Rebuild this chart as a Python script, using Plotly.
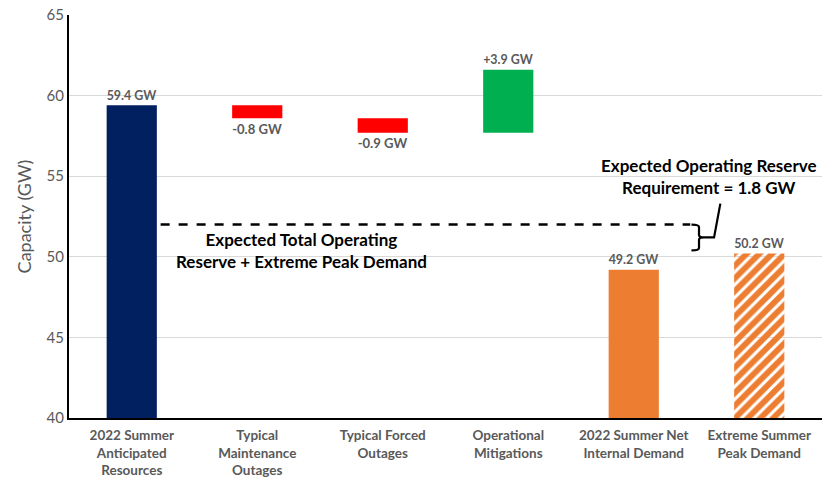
import plotly.graph_objects as go

categories = ["2022 Summer<br>Anticipated<br>Resources", "Typical<br>Maintenance<br>Outages",
              "Typical Forced<br>Outages", "Operational<br>Mitigations",
              "2022 Summer Net<br>Internal Demand", "Extreme Summer<br>Peak Demand"]
resources = 59.4
changes = [-0.8, -0.9, 3.9]
net_demand = 49.2
peak_demand = 50.2
reserve_req = 1.8
y_floor = 40

# waterfall: resource bar from the floor, then floating steps, then demand bars from the floor
bases, heights, labels = [y_floor], [resources - y_floor], [f"{resources:.1f} GW"]
level = resources
for c in changes:
    bases.append(level)
    heights.append(c)
    labels.append(f"{c:+.1f} GW" if c > 0 else f"{c:.1f} GW")
    level += c
for d in (net_demand, peak_demand):
    bases.append(y_floor)
    heights.append(d - y_floor)
    labels.append(f"{d:.1f} GW")

colors = ["#002060", "#FF0000", "#FF0000", "#00B050", "#ED7D31", "#ED7D31"]
GRAY = "#595959"
FONT = "Lato"
n = len(categories)

fig = go.Figure()
fig.add_trace(go.Bar(
    x=list(range(n)), y=heights, base=bases, width=0.4,
    marker=dict(color=colors, line=dict(width=0),
                pattern=dict(shape=[""] * (n - 1) + ["/"], bgcolor="white",
                             size=9, solidity=0.65, fillmode="replace")),
    text=labels, textposition="outside", cliponaxis=False,
    textfont=dict(family=FONT, size=14.5, color=GRAY, weight="bold"),
    hoverinfo="skip", showlegend=False))

# dashed line at peak demand + reserve requirement
top = peak_demand + reserve_req
fig.add_shape(type="line", x0=0.23, x1=4.45, y0=top, y1=top,
              line=dict(color="black", width=2.5, dash="dash"))
# curly brace spanning the reserve and its leader
mid = top - 0.8
fig.add_shape(type="path", line=dict(color="black", width=2.2),
              path=(f"M 4.46 {top} Q 4.52 {top} 4.52 {top-0.15} L 4.52 {mid+0.15} "
                    f"Q 4.52 {mid} 4.56 {mid} Q 4.52 {mid} 4.52 {mid-0.15} "
                    f"L 4.52 {mid-0.65} Q 4.52 {mid-0.8} 4.46 {mid-0.8}"))
fig.add_shape(type="path", line=dict(color="black", width=2.2),
              path=f"M 4.56 {mid} L 4.64 {mid} L 4.69 {mid+2.1}")

fig.add_annotation(x=1.35, y=top - 1.6, xref="x", yref="y", showarrow=False,
                   text="Expected Total Operating<br>Reserve + Extreme Peak Demand",
                   font=dict(family=FONT, size=17, color="black", weight="bold"))
fig.add_annotation(x=4.6, y=top + 3.0, xref="x", yref="y", showarrow=False,
                   text=f"Expected Operating Reserve<br>Requirement = {reserve_req:.1f} GW",
                   font=dict(family=FONT, size=17, color="black", weight="bold"))

fig.update_layout(
    width=822, height=484, margin=dict(l=69, r=0, t=15, b=66),
    plot_bgcolor="white", paper_bgcolor="white", bargap=0.6,
    font=dict(family=FONT, color=GRAY),
    xaxis=dict(tickvals=list(range(n)), ticktext=categories,
               range=[-0.5, n - 0.5], showgrid=False, zeroline=False,
               showline=True, linecolor="black", linewidth=2, ticks="",
               ticklabelstandoff=4,
               tickfont=dict(family=FONT, size=13.5, color=GRAY, weight="bold")),
    yaxis=dict(range=[y_floor, 65], dtick=5, showgrid=True, gridcolor="#d9d9d9",
               zeroline=False, showline=True, linecolor="black", linewidth=2, ticks="",
               tickfont=dict(family=FONT, size=15, color=GRAY),
               title=dict(text="Capacity (GW)", font=dict(family=FONT, size=18, color=GRAY),
                          standoff=10)),
)
# drop the default 8px page margin so the figure fills the window exactly
fig.write_html("out.html", config={"displayModeBar": False},
               post_script="document.body.style.margin='0';")
